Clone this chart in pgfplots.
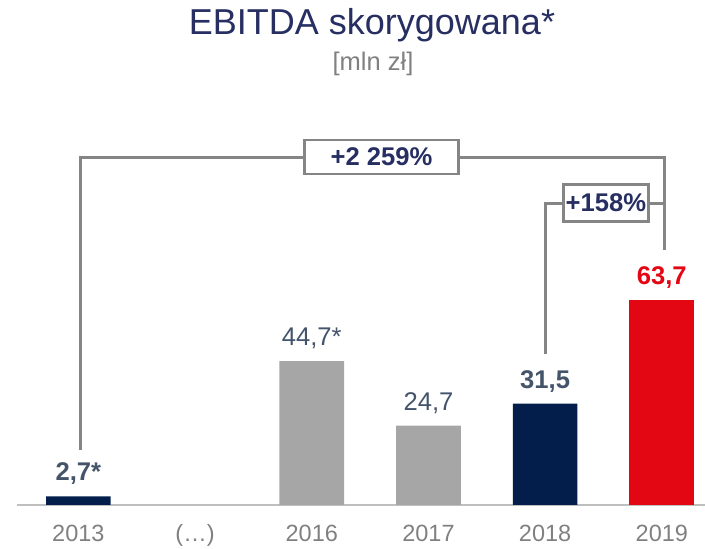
\documentclass[border=0pt]{standalone}
\usepackage{pgfplots}
\pgfplotsset{compat=1.18}
\usepackage{fontspec}
\setmainfont{Liberation Sans}
\definecolor{navy}{HTML}{041E4B}
\definecolor{barGray}{HTML}{A6A6A6}
\definecolor{redbar}{HTML}{E30613}
\definecolor{titleNavy}{HTML}{262E62}
\definecolor{slate}{HTML}{44546A}
\definecolor{tickGray}{HTML}{808080}
\definecolor{lineGray}{HTML}{858585}
\begin{document}
\begin{tikzpicture}
\path[use as bounding box] (-17pt,-44pt) rectangle (688pt,505pt);
\begin{axis}[
  at={(0pt,0pt)}, anchor=south west,
  scale only axis, width=688pt, height=450.5pt,
  xmin=-0.526, xmax=5.37, ymin=0, ymax=140,
  axis x line=bottom, axis y line=none,
  x axis line style={-, draw=black!25, line width=1.5pt},
  xtick={0,1,2,3,4,5},
  xticklabels={2013,(…),2016,2017,2018,2019},
  major tick length=0pt,
  xticklabel style={anchor=base, yshift=-36.7pt, text=tickGray, font=\fontsize{23.5}{28}\selectfont},
  ybar, bar width=64.7pt, bar shift=0pt,
  clip=false,
  nodes near coords, point meta=explicit symbolic,
  every node near coord/.append style={anchor=base, yshift=15.5pt, font=\fontsize{25.6}{30}\selectfont},
]
\addplot[fill=navy, draw=none, every node near coord/.append style={text=slate, font=\fontsize{25.6}{30}\selectfont\bfseries}]
  table[meta=lab] {
x y lab
0 2.7 2,7*
4 31.5 31,5
};
\addplot[fill=barGray, draw=none, every node near coord/.append style={text=slate}]
  table[meta=lab] {
x y lab
2 44.7 44,7*
3 24.7 24,7
};
\addplot[fill=redbar, draw=none, every node near coord/.append style={text=redbar, font=\fontsize{25.6}{30}\selectfont\bfseries}]
  table[meta=lab] {
x y lab
5 63.7 63,7
};
\draw[lineGray, line width=3pt, line join=miter] (axis cs:0.014,17.1) |- (axis cs:5.027,108.1) -- (axis cs:5.027,79.2);
\draw[lineGray, line width=3pt, line join=miter] (axis cs:4.007,46.9) |- (axis cs:5.027,93.8);
\node[draw=lineGray, line width=2.6pt, fill=white, inner sep=0pt, minimum width=154pt, minimum height=34pt, text=titleNavy, font=\fontsize{25.6}{30}\selectfont\bfseries] at (axis cs:2.598,108.1) {+2 259\%};
\node[draw=lineGray, line width=2.6pt, fill=white, inner sep=0pt, minimum width=85pt, minimum height=37pt, text=titleNavy, font=\fontsize{25.6}{30}\selectfont\bfseries] at (axis cs:4.521,93.85) {+158\%};
\end{axis}
\node[anchor=base, text=titleNavy, font=\fontsize{36}{43}\selectfont] at (355pt,470pt) {EBITDA skorygowana*};
\node[anchor=base, text=tickGray, font=\fontsize{25.5}{30}\selectfont] at (356pt,434pt) {[mln zł]};
\end{tikzpicture}
\end{document}
